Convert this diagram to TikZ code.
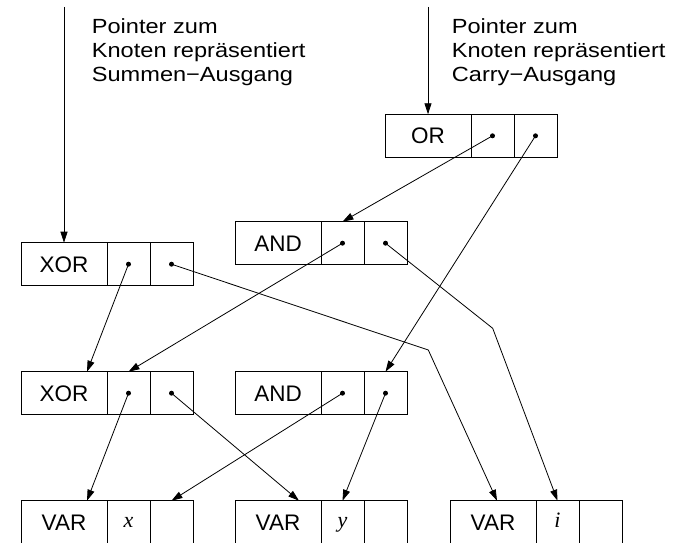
\documentclass[tikz,border=0pt]{standalone}
\usepackage{fontspec}
\setmainfont{Liberation Sans}
\newfontfamily\varfont{Liberation Serif}
\usetikzlibrary{arrows.meta,calc}
\newcommand{\recbox}[5]{%
  \node[labcell] (#1-l) at (#2,#3) {#4};
  \node[ptrcell] (#1-a) at (#1-l.north east) {#5};
  \node[ptrcell] (#1-b) at (#1-a.north east) {};
}
\newcommand{\notetext}[1]{\scalebox{1.15}[1]{#1}}
\begin{document}
\begin{tikzpicture}[x=1pt,y=-1pt,
  cellbase/.style={draw, line width=0.8pt, inner sep=0pt, outer sep=0pt,
    minimum height=43pt, anchor=north west},
  labcell/.style={cellbase, minimum width=86pt, text height=16pt, text depth=0pt,
    font=\fontsize{22.5}{24}\selectfont},
  ptrcell/.style={cellbase, minimum width=43pt, text height=10pt, text depth=0pt,
    font=\varfont\itshape\fontsize{22}{24}\selectfont},
  ptr/.style={line width=0.8pt, -{Triangle[length=11pt,width=7pt]}},
  note/.style={anchor=base west, inner sep=0pt, font=\fontsize{20.5}{24}\selectfont},
  dotmark/.style={fill=black}]
\clip (0,0) rectangle (677,543);
\fill[white] (0,0) rectangle (677,543);
% records
\recbox{or}{385}{114.3}{OR}{}
\recbox{at}{235}{221.7}{AND}{}
\recbox{xt}{21}{242.7}{XOR}{}
\recbox{xm}{21}{371.7}{XOR}{}
\recbox{am}{235}{371.7}{AND}{}
\recbox{vx}{21}{500.7}{VAR}{x}
\recbox{vy}{235}{500.7}{VAR}{y}
\recbox{vi}{450}{500.7}{VAR}{i}
% annotations
\node[note] (n1a) at (91.7,33.3) {\notetext{Pointer zum}};
\node[note] (n1b) at (91.7,57.3) {\notetext{Knoten repräsentiert}};
\node[note] (n1c) at (91.7,81.3) {\notetext{Summen−Ausgang}};
\node[note] (n2a) at (451.7,33.3) {\notetext{Pointer zum}};
\node[note] (n2b) at (451.7,57.3) {\notetext{Knoten repräsentiert}};
\node[note] (n2c) at (451.7,81.3) {\notetext{Carry−Ausgang}};
% incoming pointers
\coordinate (top1) at (0,7);
\draw[ptr] (xt-l.north |- top1) -- (xt-l.north);
\draw[ptr] (or-l.north |- top1) -- (or-l.north);
% dots
\foreach \c in {or-a,or-b,at-a,at-b,xt-a,xt-b,xm-a,xm-b,am-a,am-b}
  \fill[dotmark] (\c.center) circle[radius=2.5pt];
% bends
\coordinate (bendA) at (492.7,328.3);
\coordinate (bendB) at (428.3,350);
% connectors
\draw[ptr] (or-a.center) -- (at-a.north);
\draw[ptr] (or-b.center) -- (am-b.north);
\draw[ptr] (at-a.center) -- (xm-a.north);
\draw[ptr] (at-b.center) -- (bendA) -- (vi-a.north);
\draw[ptr] (xt-a.center) -- ([xshift=23pt]xm-l.north);
\draw[ptr] (xt-b.center) -- (bendB) -- ([xshift=4pt]vi-l.north);
\draw[ptr] (xm-a.center) -- ([xshift=23pt]vx-l.north);
\draw[ptr] (xm-b.center) -- ([xshift=21pt]vy-l.north);
\draw[ptr] (am-a.center) -- (vx-b.north);
\draw[ptr] (am-b.center) -- (vy-a.north);
\end{tikzpicture}
\end{document}
